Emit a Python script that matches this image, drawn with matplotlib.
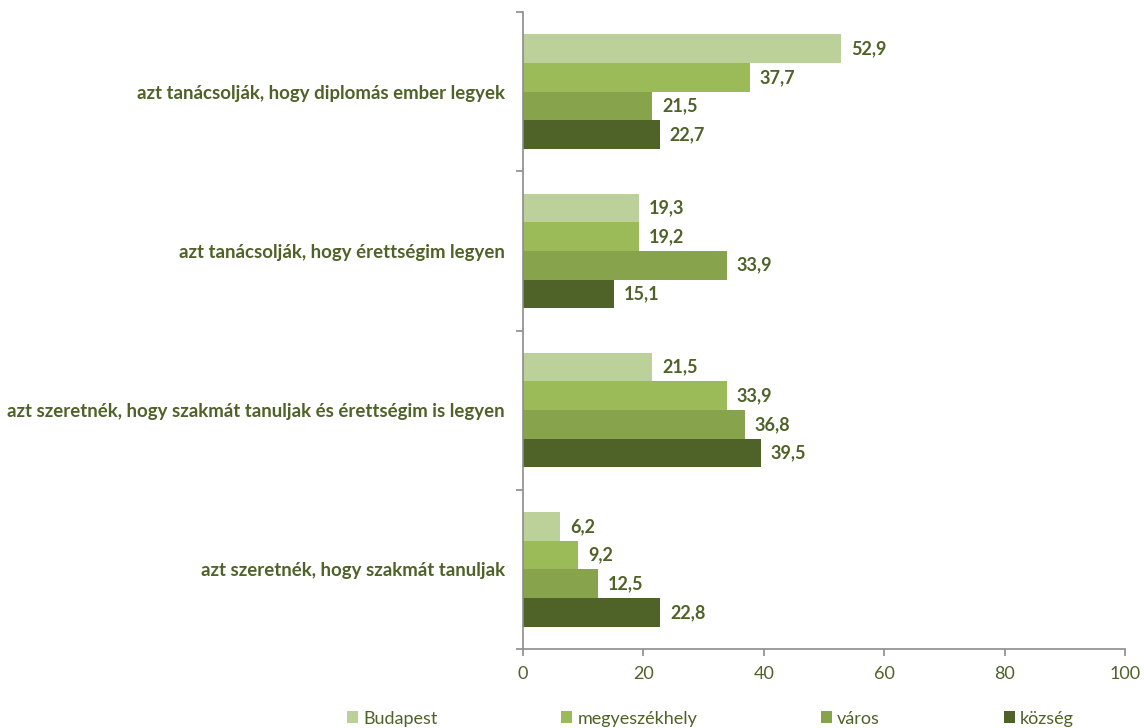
import matplotlib.pyplot as plt
import numpy as np


# data, categories listed top to bottom
categories = [
    'azt tanácsolják, hogy diplomás ember legyek',
    'azt tanácsolják, hogy érettségim legyen',
    'azt szeretnék, hogy szakmát tanuljak és érettségim is legyen',
    'azt szeretnék, hogy szakmát tanuljak',
]
series_names = ['Budapest', 'megyeszékhely', 'város', 'község']
budapest = [52.9, 19.3, 21.5, 6.2]
megyeszekhely = [37.7, 19.2, 33.9, 9.2]
varos = [21.5, 33.9, 36.8, 12.5]
kozseg = [22.7, 15.1, 39.5, 22.8]
x_ticks = [0, 20, 40, 60, 80, 100]

colours = ['#bcd09a', '#9bbb59', '#87a34c', '#4f6228']
text_colour = '#4f6228'
axis_colour = '#8c8c8c'

plt.rcParams['font.family'] = ['Lato', 'DejaVu Sans']

fig = plt.figure(figsize=(11.44, 7.28), dpi=100)
ax = fig.add_axes([0.4572, 0.1085, 0.9834 - 0.4572, 0.9835 - 0.1085])

n_cat = len(categories)
bar_h = 0.18
all_series = [budapest, megyeszekhely, varos, kozseg]
# category centres: top category at highest y
centres = np.arange(n_cat)[::-1] + 0.5
for i, (name, vals) in enumerate(zip(series_names, all_series)):
    offs = (1.5 - i) * bar_h
    ys = centres + offs
    ax.barh(ys, vals, height=bar_h, color=colours[i], label=name, linewidth=0)
    for y, v in zip(ys, vals):
        ax.annotate(f'{v:.1f}'.replace('.', ','), xy=(v, y), xytext=(7, 0),
                    textcoords='offset points', va='center', ha='left',
                    fontsize=13, fontweight='bold', color=text_colour)

ax.set_xlim(0, 100)
ax.set_ylim(0, n_cat)
ax.set_xticks(x_ticks)
ax.set_xticklabels([str(t) for t in x_ticks], fontsize=13, color=text_colour)

# category labels at centres, tick marks at boundaries
ax.set_yticks(centres)
ax.set_yticklabels(categories, fontsize=13.4, fontweight='bold', color=text_colour)
ax.tick_params(axis='y', which='major', length=0, pad=13)
ax.set_yticks(np.arange(n_cat + 1), minor=True)
ax.tick_params(axis='y', which='minor', length=5, color=axis_colour, width=1.2)
ax.tick_params(axis='x', length=5, color=axis_colour, width=1.2, pad=7)

for s in ['top', 'right']:
    ax.spines[s].set_visible(False)
for s in ['left', 'bottom']:
    ax.spines[s].set_color(axis_colour)
    ax.spines[s].set_linewidth(1.2)

leg = fig.legend(loc='center left', bbox_to_anchor=(0.3032, 0.013),
                 ncol=4, frameon=False, fontsize=13, handlelength=0.6, handleheight=0.6,
                 handletextpad=0.3, columnspacing=6.85, borderaxespad=0, borderpad=0)
for t in leg.get_texts():
    t.set_color(text_colour)

plt.savefig('out.png', dpi=100)
